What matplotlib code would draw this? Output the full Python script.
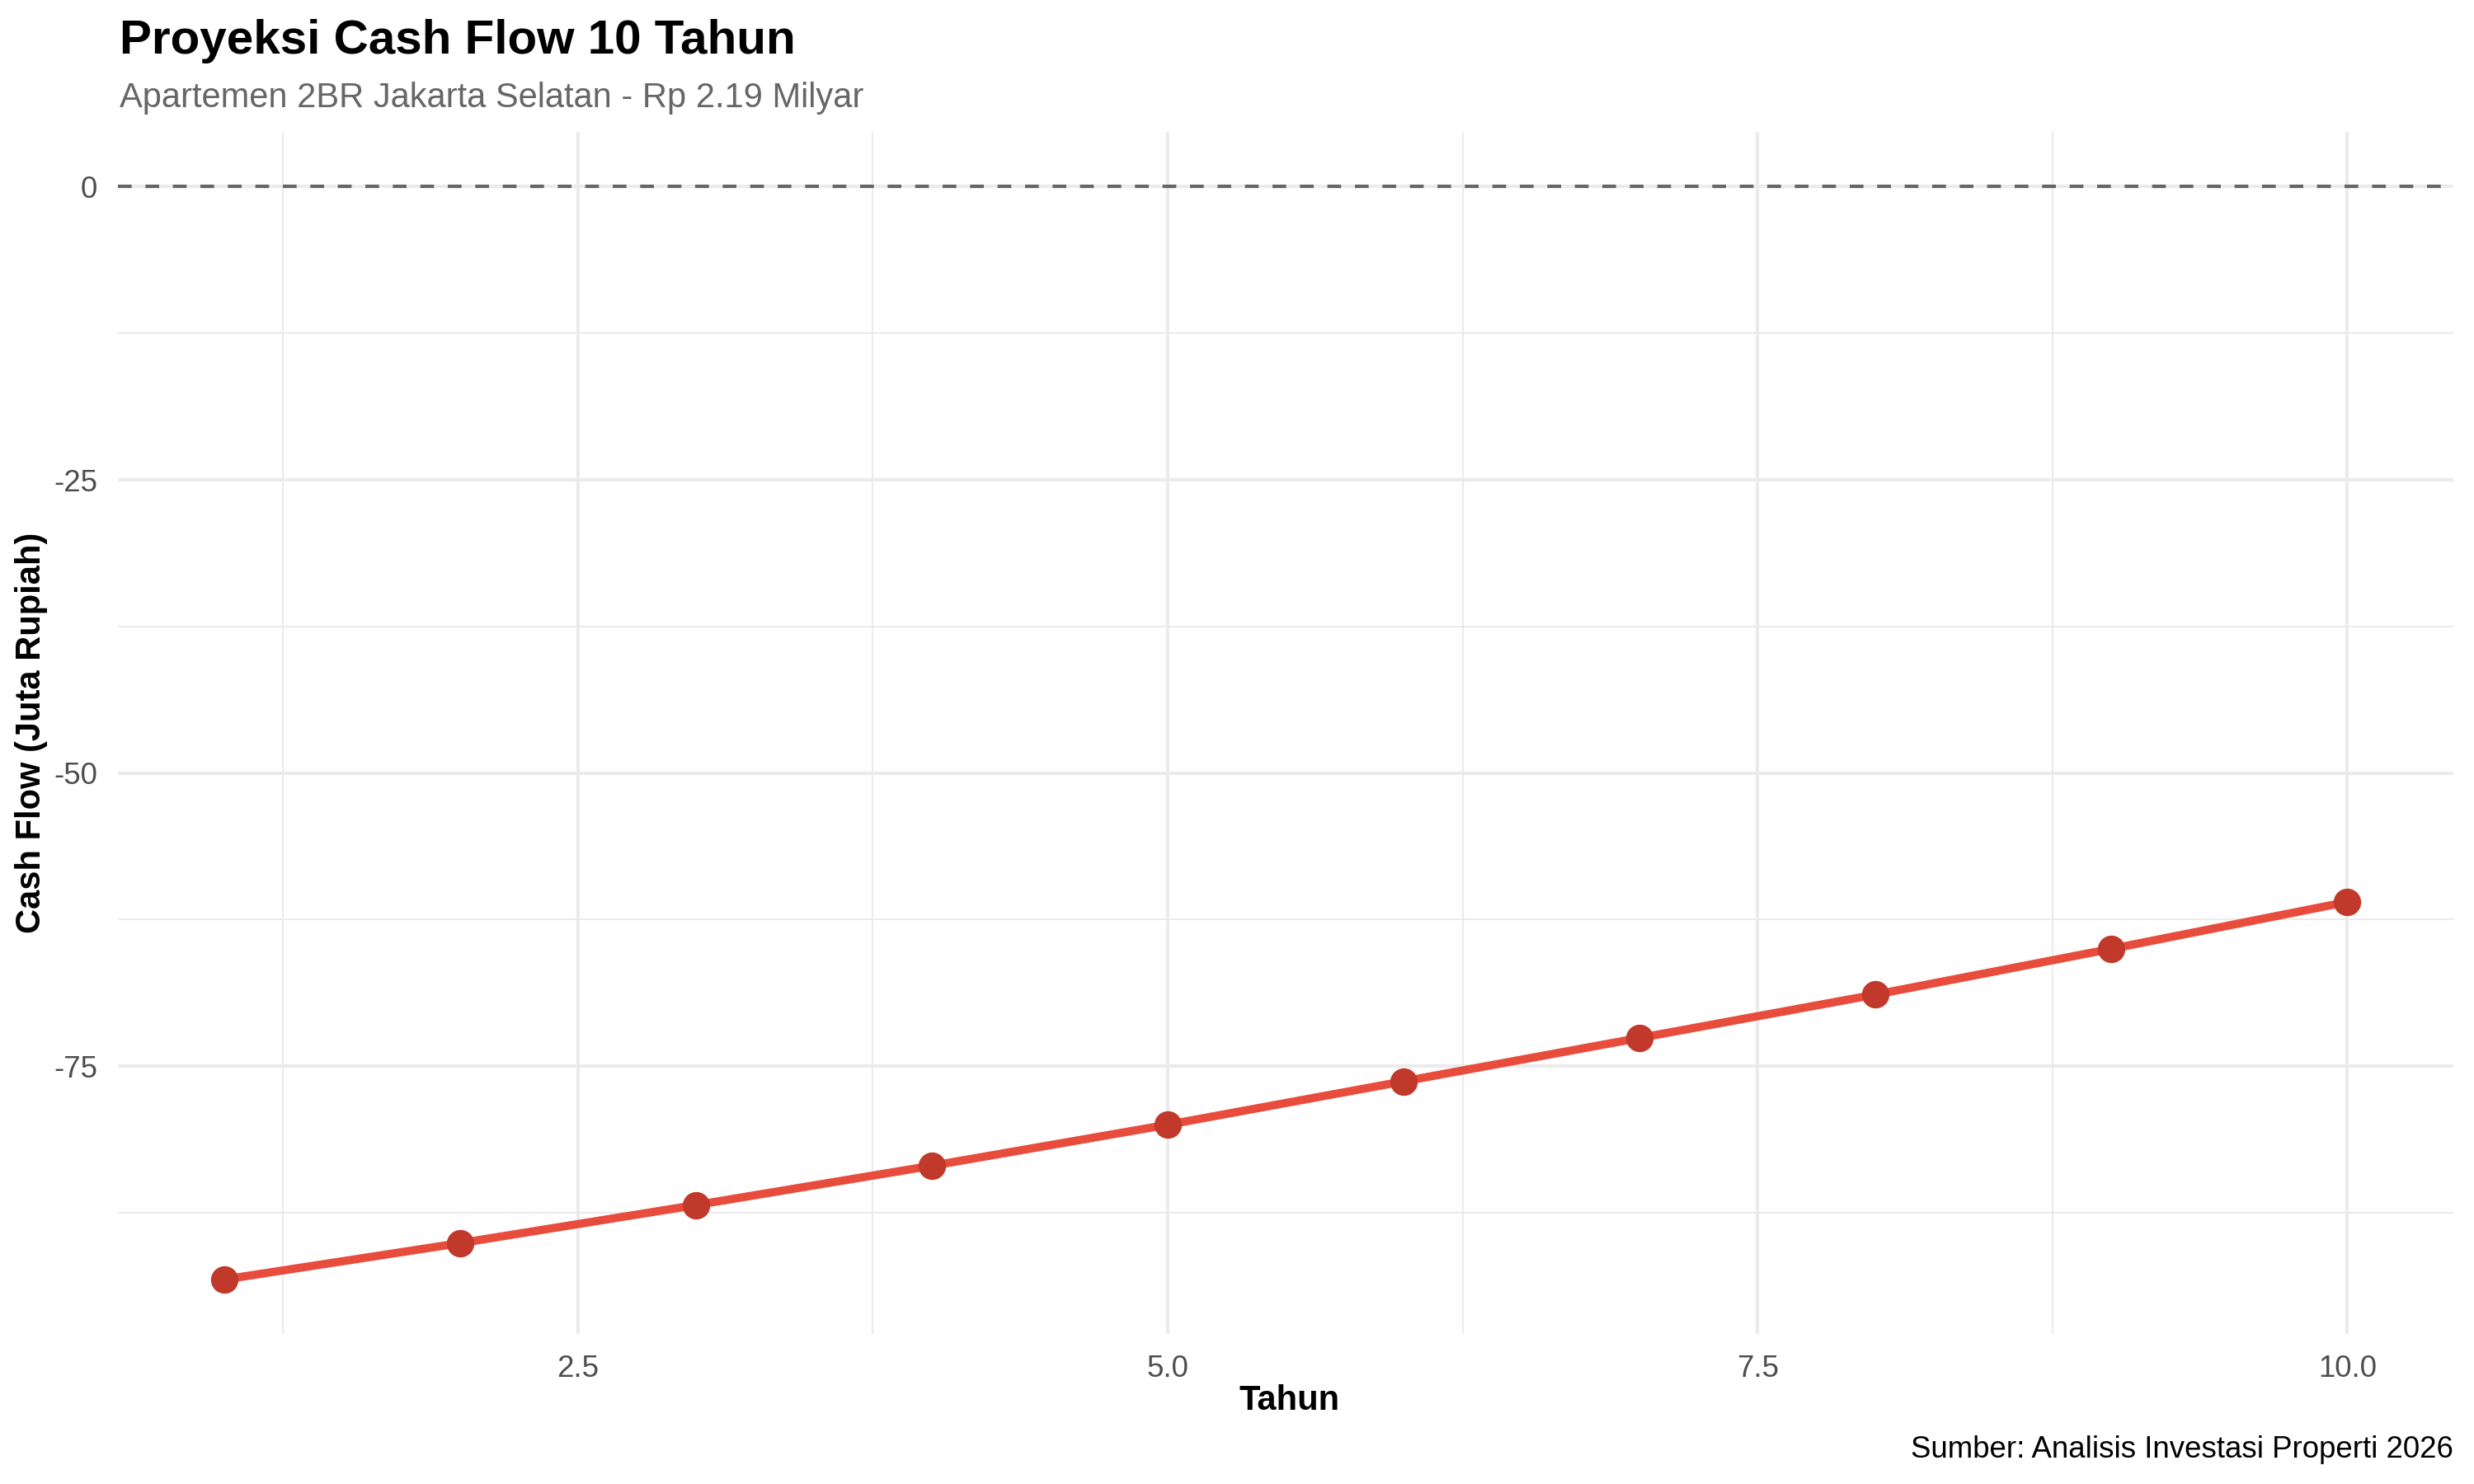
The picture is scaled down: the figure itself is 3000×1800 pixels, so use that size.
import numpy as np
import matplotlib.pyplot as plt
from matplotlib.ticker import MultipleLocator

plt.rcParams['font.family'] = ['Liberation Sans', 'DejaVu Sans']
plt.rcParams['axes.unicode_minus'] = False

# data
tahun = [1, 2, 3, 4, 5, 6, 7, 8, 9, 10]
cash_flow = [-93.2, -90.1, -86.85, -83.5, -80.0, -76.3, -72.6, -68.9, -65.0, -61.0]

judul = "Proyeksi Cash Flow 10 Tahun"
subjudul = "Apartemen 2BR Jakarta Selatan - Rp 2.19 Milyar"
sumber = "Sumber: Analisis Investasi Properti 2026"

fig = plt.figure(figsize=(10, 6), dpi=300)
ax = fig.add_axes([0.0477, 0.101, 0.944, 0.81])

ax.axhline(0, color='#666666', linestyle=(0, (4, 4)), linewidth=1.0, zorder=2)
ax.plot(tahun, cash_flow, color='#E74C3C', linewidth=2.4, zorder=3)
ax.plot(tahun, cash_flow, 'o', color='#C0392B', markersize=8, markeredgewidth=0, zorder=4)

# ggplot-like 5% expansion
xr = max(tahun) - min(tahun)
ax.set_xlim(min(tahun) - 0.05 * xr, max(tahun) + 0.05 * xr)
ymin, ymax = min(min(cash_flow), 0), max(max(cash_flow), 0)
yr = ymax - ymin
ax.set_ylim(ymin - 0.05 * yr, ymax + 0.05 * yr)

ax.xaxis.set_minor_locator(MultipleLocator(1.25))
ax.yaxis.set_major_locator(MultipleLocator(25))
ax.yaxis.set_minor_locator(MultipleLocator(12.5))
ax.set_xticks([2.5, 5.0, 7.5, 10.0])
ax.set_xticklabels(['2.5', '5.0', '7.5', '10.0'])

ax.grid(True, which='major', color='#EBEBEB', linewidth=1.0, zorder=0)
ax.grid(True, which='minor', color='#EBEBEB', linewidth=0.5, zorder=0)
ax.set_axisbelow(True)
for s in ax.spines.values():
    s.set_visible(False)
ax.tick_params(which='both', length=0, labelsize=8.8, labelcolor='#4D4D4D', pad=6)

fig.text(0.5213, 0.0563, "Tahun", fontsize=10, fontweight='bold', ha='center', va='center')
fig.text(0.0128, 0.5063, "Cash Flow (Juta Rupiah)", fontsize=10, fontweight='bold',
         ha='center', va='center', rotation=90)

fig.text(0.0483, 0.964, judul, fontsize=14, fontweight='bold', ha='left', va='baseline')
fig.text(0.0483, 0.928, subjudul, fontsize=10, color='#666666', ha='left', va='baseline')
fig.text(0.9917, 0.018, sumber, fontsize=8.8, ha='right', va='baseline')

fig.savefig('out.png', dpi=300, facecolor='white')
